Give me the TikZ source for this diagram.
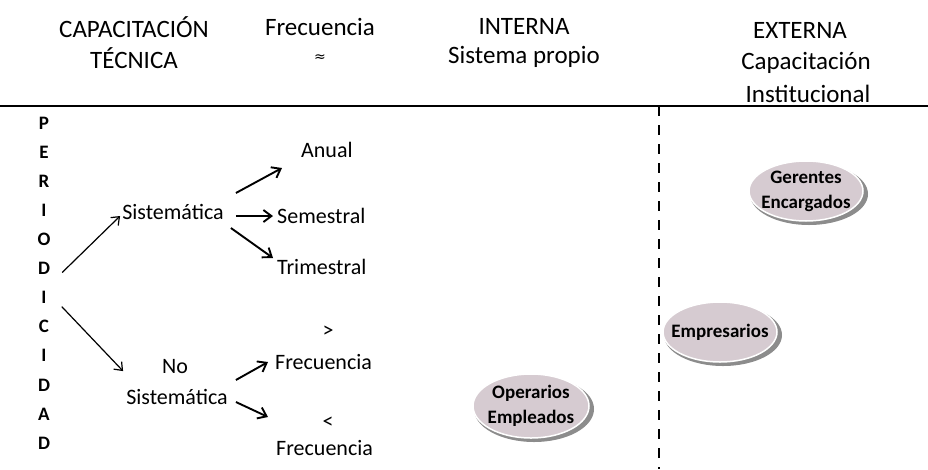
\documentclass[tikz,border=0pt]{standalone}
\usepackage{fontspec}
\setmainfont{Carlito}
\newfontfamily\symfont{DejaVu Sans}
\usetikzlibrary{arrows.meta,shapes.geometric}
\begin{document}
\begin{tikzpicture}[x=1pt,y=-1pt,
  hdr/.style={font=\fontsize{25}{28}\selectfont, inner sep=1pt},
  txt/.style={font=\fontsize{22}{26}\selectfont, inner sep=1pt},
  letter/.style={font=\bfseries\fontsize{19}{20}\selectfont, inner sep=1pt},
  arr/.style={-{Straight Barb[length=8pt,width=12pt]}, line width=1.9pt},
  arrthin/.style={-{Straight Barb[length=7pt,width=11pt]}, line width=1.2pt},
  bubble/.style={ellipse, fill={rgb,255:red,214;green,203;blue,209}, draw=white, line width=1.5pt, inner sep=0pt},
  btxt/.style={font=\bfseries\fontsize{19}{25}\selectfont, align=center, inner sep=0pt},
  shade/.style={ellipse, fill=black!45, draw=none, inner sep=0pt},
  sep/.style={line width=1.5pt},
  ]
\useasboundingbox (0,0) rectangle (928,469);
\fill[white] (0,0) rectangle (928,469);

% headers
\node[hdr] (h1) at (134,27) {CAPACITACIÓN};
\node[hdr] (h1b) at (134,58) {TÉCNICA};
\node[hdr] (h2) at (320,27) {Frecuencia};
\node[hdr] (h2b) at (320,58) {\symfont\fontsize{14}{15}\selectfont ≈};
\node[hdr] (h3) at (524,26) {INTERNA};
\node[hdr] (h3b) at (524,57) {Sistema propio};
\node[hdr] (h4) at (800,30) {EXTERNA};
\node[hdr] (h4b) at (806,63) {Capacitación};
\node[hdr] (h4c) at (808,94) {Institucional};

% separators
\coordinate (hl) at (0,106);
\coordinate (hr) at (928,106);
\coordinate (vt) at (659,106);
\coordinate (vb) at (659,469);
\draw[sep] (hl) -- (hr);
\draw[sep, dash pattern=on 10pt off 9pt] (vt) -- (vb);

% PERIODICIDAD
\foreach \c [count=\i] in {P,E,R,I,O,D,I,C,I,D,A,D}{
  \node[letter] (l\i) at (44,{123+29.1*(\i-1)}) {\c};
}

% tree
\node[txt] (sis) at (173,212) {Sistemática};
\node[txt, anchor=west] (anual) at (300,150) {Anual};
\node[txt, anchor=west] (sem) at (276,216) {Semestral};
\node[txt, anchor=west] (tri) at (276,267) {Trimestral};
\node[txt] (no) at (175,367) {No};
\node[txt] (nosis) at (177,397) {Sistemática};
\node[txt] (gt) at (328,332) {>};
\node[txt, anchor=west] (f1) at (274,362) {Frecuencia};
\node[txt] (lt) at (328,423) {<};
\node[txt, anchor=west] (f2) at (275,448) {Frecuencia};

\draw[arrthin] ([xshift=11pt,yshift=-4pt]l6.east) -- ([xshift=-1pt,yshift=-4pt]sis.west);
\draw[arrthin] ([xshift=14pt,yshift=-9pt]l7.east) -- ([xshift=-2pt,yshift=17pt]nosis.north west);
\draw[arr] ([xshift=11pt,yshift=19pt]sis.east) -- ([xshift=-18pt,yshift=-18pt]anual.west);
\draw[arr] ([xshift=11pt,yshift=-4pt]sis.east) -- ([xshift=-3pt]sem.west);
\draw[arr] ([xshift=6pt,yshift=-16pt]sis.east) -- ([xshift=-3pt,yshift=9pt]tri.west);
\draw[arr] ([xshift=7pt,yshift=17pt]nosis.east) -- ([xshift=-6pt]f1.west);
\draw[arr] ([xshift=7pt,yshift=-5pt]nosis.east) -- ([xshift=-7pt,yshift=31pt]f2.west);

% bubbles
\node[shade, minimum width=118pt, minimum height=62pt] (gsh) at (809,194) {};
\node[bubble, minimum width=114pt, minimum height=60pt] (ger) at (806,191) {};
\node[btxt] (gert) at (ger) {Gerentes\\Encargados};
\node[shade, minimum width=118pt, minimum height=62pt] (esh) at (723,335) {};
\node[bubble, minimum width=114pt, minimum height=60pt] (emp) at (720,332) {};
\node[btxt] (empt) at (emp) {Empresarios};
\node[shade, minimum width=120pt, minimum height=66pt] (osh) at (534,409) {};
\node[bubble, minimum width=116pt, minimum height=64pt] (ope) at (531,406) {};
\node[btxt] (opet) at (ope) {Operarios\\Empleados};
\end{tikzpicture}
\end{document}
